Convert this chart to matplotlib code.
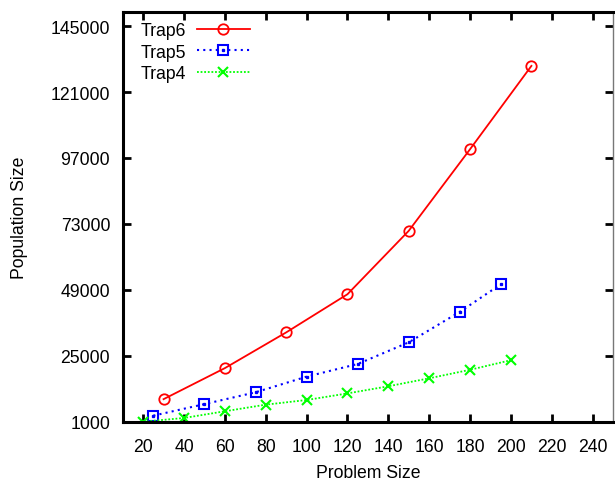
import matplotlib
matplotlib.use("Agg")
import matplotlib.pyplot as plt
from matplotlib.legend_handler import HandlerTuple

plt.rcParams['font.family'] = ['Liberation Sans', 'DejaVu Sans']

trap6_x = [30, 60, 90, 120, 150, 180, 210]
trap6_y = [9200, 20500, 33500, 47400, 70500, 100200, 130500]

trap5_x = [25, 50, 75, 100, 125, 150, 175, 195]
trap5_y = [3200, 7400, 11700, 17400, 22000, 29900, 41000, 51000]

trap4_x = [20, 40, 60, 80, 100, 120, 140, 160, 180, 200]
trap4_y = [1000, 2350, 4800, 7200, 8900, 11300, 13900, 16800, 19900, 23400]

x_ticks = [20, 40, 60, 80, 100, 120, 140, 160, 180, 200, 220, 240]
y_ticks = [1000, 25000, 49000, 73000, 97000, 121000, 145000]

FS = 12.7

fig = plt.figure(figsize=(6.15, 4.81), dpi=100)
ax = fig.add_axes([0.1995, 0.1212, 0.7975, 0.8511])

l6, = ax.plot(trap6_x, trap6_y, color='#ff0000', lw=1.3, ls='-', marker='o',
              markersize=7.5, markerfacecolor='none', markeredgecolor='#ff0000', markeredgewidth=1.3)
l5, = ax.plot(trap5_x, trap5_y, color='#0000ff', lw=1.5, ls=(0, (1, 2)), marker='s',
              markersize=6.5, markerfacecolor='none', markeredgecolor='#0000ff', markeredgewidth=1.5)
d5, = ax.plot(trap5_x, trap5_y, ls='none', marker='s', markersize=1.4,
              markerfacecolor='#0000ff', markeredgecolor='#0000ff')
l4, = ax.plot(trap4_x, trap4_y, color='#00ff00', lw=1.3, ls=(0, (1, 1)), marker='x',
              markersize=7, markeredgecolor='#00ff00', markeredgewidth=1.5)

ax.set_xlim(10, 250)
ax.set_ylim(1000, 150000)
ax.set_xticks(x_ticks)
ax.set_yticks(y_ticks)
ax.set_xticklabels([str(v) for v in x_ticks])
ax.set_yticklabels([str(v) for v in y_ticks])
ax.tick_params(direction='in', length=6, width=2, labelsize=FS, top=True, right=True,
               pad=9, colors='black')
ax.tick_params(axis='x', pad=12)
for s in ['left', 'bottom', 'top']:
    ax.spines[s].set_linewidth(2.2)
    ax.spines[s].set_color('black')
ax.spines['right'].set_linewidth(1.0)
ax.spines['right'].set_color('#777777')

ax.set_xlabel('Problem Size', fontsize=FS, labelpad=6)
ax.set_ylabel('Population Size', fontsize=FS, labelpad=16)

leg = ax.legend([l6, (l5, d5), l4], ['Trap6', 'Trap5', 'Trap4'],
                handler_map={tuple: HandlerTuple(ndivide=1)},
                loc='upper left', bbox_to_anchor=(0.012, 1.006), frameon=False,
                markerfirst=False, fontsize=FS, handlelength=3.0, handletextpad=0.6,
                labelspacing=0.25, borderaxespad=0.3)

fig.savefig('out.png', dpi=100)
